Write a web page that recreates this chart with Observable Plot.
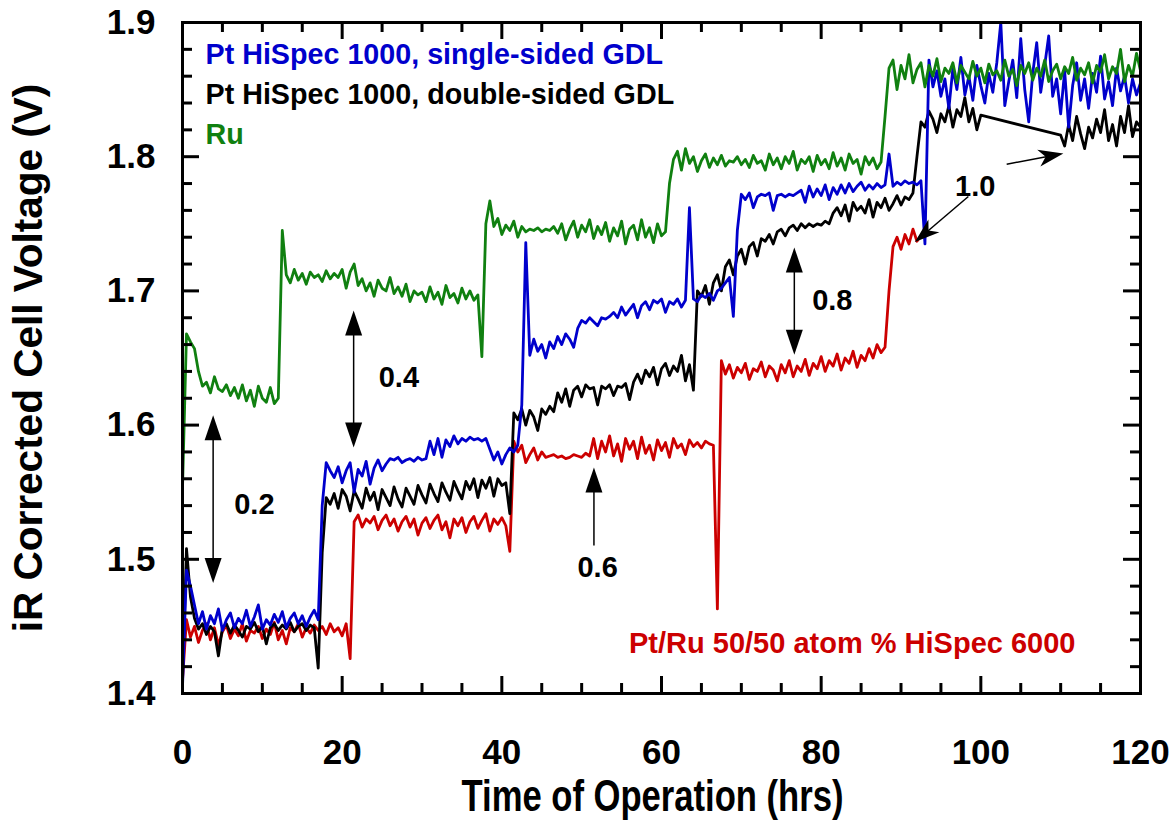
<!DOCTYPE html>
<html>
<head>
<meta charset="utf-8">
<script src="https://cdn.jsdelivr.net/npm/d3@7"></script>
<script src="https://cdn.jsdelivr.net/npm/@observablehq/plot@0.6"></script>
<style>
  html, body { margin: 0; padding: 0; background: #fff; }
</style>
</head>
<body>
<div id="chart"></div>
<script>
// Cell voltage log, one reading every half hour (hours, volts).
const SAMPLE_STEP = 0.5;

// Pt HiSpec 1000, single-sided GDL — readings from t = 0 h
const ptSingleStart = 0;
const ptSingle = [
  1.405,1.492,1.480,1.466,1.452,1.461,1.448,1.458,1.452,1.463,
  1.447,1.455,1.460,1.449,1.456,1.452,1.462,1.450,1.457,1.466,
  1.448,1.455,1.451,1.459,1.453,1.461,1.449,1.456,1.460,1.452,
  1.458,1.450,1.457,1.462,1.455,1.540,1.572,1.566,1.561,1.569,
  1.557,1.566,1.572,1.550,1.567,1.562,1.573,1.556,1.568,1.574,
  1.566,1.571,1.575,1.574,1.576,1.572,1.574,1.575,1.573,1.576,
  1.574,1.575,1.588,1.578,1.590,1.576,1.589,1.584,1.592,1.586,
  1.590,1.588,1.591,1.589,1.590,1.588,1.590,1.582,1.574,1.580,
  1.571,1.578,1.583,1.580,1.585,1.615,1.736,1.652,1.664,1.655,
  1.660,1.650,1.662,1.657,1.666,1.660,1.668,1.664,1.658,1.672,
  1.678,1.676,1.680,1.677,1.674,1.680,1.679,1.681,1.684,1.680,
  1.688,1.682,1.686,1.690,1.680,1.689,1.692,1.686,1.693,1.691,
  1.694,1.684,1.692,1.690,1.694,1.688,1.693,1.762,1.694,1.692,
  1.697,1.695,1.698,1.693,1.700,1.702,1.706,1.710,1.681,1.745,
  1.772,1.768,1.773,1.762,1.770,1.772,1.771,1.773,1.760,1.771,
  1.772,1.770,1.772,1.771,1.773,1.775,1.766,1.778,1.770,1.776,
  1.771,1.779,1.768,1.777,1.772,1.779,1.773,1.780,1.774,1.778,
  1.781,1.775,1.779,1.776,1.780,1.777,1.779,1.802,1.778,1.781,
  1.779,1.782,1.780,1.781,1.779,1.782,1.735,1.872,1.852,1.864,
  1.845,1.858,1.836,1.866,1.850,1.874,1.846,1.860,1.842,1.868,
  1.853,1.840,1.862,1.848,1.870,1.900,1.838,1.856,1.872,1.844,
  1.888,1.850,1.826,1.862,1.885,1.848,1.868,1.890,1.845,1.858,
  1.832,1.864,1.822,1.853,1.870,1.842,1.858,1.836,1.862,1.848,
  1.875,1.843,1.856,1.838,1.866,1.849,1.860,1.840,1.858,1.846,
  1.855
];

// Pt HiSpec 1000, double-sided GDL — logged 0–100 h, then 110–120 h
const ptDoubleStart = 0;
const ptDouble = [
  1.410,1.508,1.472,1.456,1.448,1.452,1.444,1.450,1.446,1.428,
  1.449,1.452,1.445,1.451,1.447,1.442,1.450,1.448,1.453,1.446,
  1.450,1.437,1.449,1.452,1.447,1.451,1.448,1.453,1.446,1.450,
  1.452,1.447,1.451,1.449,1.419,1.505,1.546,1.541,1.549,1.538,
  1.552,1.547,1.536,1.551,1.545,1.538,1.553,1.544,1.550,1.537,
  1.552,1.546,1.540,1.554,1.545,1.539,1.553,1.547,1.541,1.555,
  1.548,1.542,1.556,1.549,1.543,1.557,1.550,1.544,1.558,1.551,
  1.545,1.558,1.552,1.560,1.546,1.559,1.553,1.561,1.547,1.560,
  1.555,1.557,1.534,1.609,1.604,1.612,1.600,1.611,1.606,1.596,
  1.612,1.608,1.614,1.610,1.624,1.617,1.627,1.614,1.626,1.629,
  1.621,1.630,1.627,1.628,1.615,1.629,1.627,1.630,1.622,1.629,
  1.628,1.631,1.619,1.632,1.638,1.631,1.641,1.636,1.643,1.630,
  1.642,1.646,1.637,1.644,1.640,1.652,1.633,1.645,1.626,1.700,
  1.696,1.704,1.690,1.706,1.712,1.700,1.718,1.723,1.712,1.726,
  1.731,1.720,1.733,1.736,1.726,1.739,1.737,1.742,1.735,1.744,
  1.746,1.741,1.747,1.749,1.745,1.750,1.747,1.750,1.748,1.750,
  1.749,1.752,1.750,1.758,1.762,1.756,1.764,1.752,1.766,1.760,
  1.763,1.758,1.768,1.755,1.766,1.762,1.769,1.760,1.765,1.771,
  1.764,1.770,1.768,1.773,1.800,1.826,1.822,1.834,1.828,1.818,
  1.832,1.826,1.838,1.822,1.835,1.830,1.844,1.826,1.836,1.820,
  1.831
];
const ptDoubleLateStart = 110;
const ptDoubleLate = [
  1.816,1.808,1.824,1.812,1.830,1.817,1.806,1.822,1.814,1.828,
  1.818,1.835,1.812,1.824,1.808,1.830,1.818,1.838,1.815,1.826,
  1.822
];

// Ru — readings from t = 0 h
const ruStart = 0;
const ru = [
  1.553,1.668,1.662,1.657,1.640,1.629,1.632,1.624,1.636,1.627,
  1.625,1.630,1.622,1.628,1.620,1.630,1.618,1.626,1.614,1.629,
  1.620,1.617,1.628,1.616,1.620,1.745,1.712,1.706,1.716,1.708,
  1.713,1.705,1.714,1.710,1.712,1.707,1.715,1.709,1.713,1.710,
  1.716,1.702,1.714,1.720,1.704,1.709,1.700,1.706,1.696,1.708,
  1.702,1.700,1.710,1.698,1.703,1.696,1.705,1.692,1.700,1.697,
  1.699,1.692,1.703,1.694,1.699,1.690,1.704,1.695,1.698,1.691,
  1.702,1.694,1.700,1.693,1.697,1.651,1.750,1.767,1.748,1.754,
  1.742,1.749,1.745,1.752,1.740,1.748,1.744,1.746,1.745,1.747,
  1.744,1.746,1.745,1.748,1.743,1.750,1.738,1.746,1.752,1.740,
  1.749,1.744,1.753,1.739,1.748,1.742,1.751,1.737,1.747,1.741,
  1.752,1.735,1.746,1.749,1.738,1.753,1.740,1.747,1.736,1.750,
  1.741,1.744,1.780,1.798,1.804,1.790,1.806,1.795,1.800,1.789,
  1.797,1.802,1.792,1.799,1.794,1.801,1.793,1.797,1.796,1.800,
  1.794,1.798,1.792,1.801,1.795,1.797,1.790,1.802,1.794,1.799,
  1.791,1.800,1.795,1.804,1.790,1.798,1.795,1.800,1.789,1.801,
  1.794,1.798,1.791,1.803,1.793,1.799,1.790,1.802,1.795,1.798,
  1.787,1.800,1.794,1.799,1.791,1.796,1.830,1.866,1.872,1.850,
  1.868,1.858,1.876,1.855,1.865,1.870,1.852,1.868,1.860,1.873,
  1.856,1.866,1.862,1.870,1.855,1.868,1.863,1.858,1.871,1.860,
  1.866,1.855,1.869,1.861,1.864,1.857,1.872,1.860,1.865,1.853,
  1.868,1.862,1.870,1.857,1.866,1.860,1.872,1.856,1.864,1.869,
  1.858,1.867,1.862,1.874,1.857,1.866,1.861,1.870,1.855,1.868,
  1.863,1.876,1.858,1.867,1.862,1.880,1.856,1.868,1.860,1.877,
  1.864
];

// Pt/Ru 50/50 atom % HiSpec 6000 — readings from t = 0 h to 92.5 h
const ptRuStart = 0;
const ptRu = [
  1.410,1.455,1.442,1.450,1.438,1.447,1.452,1.440,1.449,1.436,
  1.446,1.451,1.441,1.448,1.443,1.452,1.439,1.447,1.445,1.450,
  1.441,1.448,1.444,1.453,1.440,1.447,1.437,1.449,1.446,1.452,
  1.442,1.449,1.445,1.451,1.447,1.450,1.444,1.452,1.446,1.449,
  1.443,1.452,1.426,1.528,1.533,1.524,1.530,1.527,1.532,1.522,
  1.529,1.533,1.525,1.530,1.521,1.528,1.532,1.524,1.530,1.518,
  1.527,1.531,1.523,1.529,1.533,1.522,1.528,1.516,1.530,1.525,
  1.531,1.520,1.528,1.532,1.523,1.529,1.534,1.521,1.530,1.526,
  1.531,1.525,1.506,1.588,1.580,1.585,1.572,1.578,1.583,1.574,
  1.580,1.576,1.577,1.578,1.576,1.577,1.575,1.576,1.578,1.577,
  1.576,1.579,1.577,1.590,1.575,1.588,1.580,1.592,1.577,1.586,
  1.573,1.590,1.582,1.588,1.575,1.591,1.579,1.585,1.574,1.589,
  1.581,1.587,1.576,1.590,1.583,1.586,1.578,1.589,1.584,1.587,
  1.583,1.588,1.586,1.585,1.463,1.648,1.638,1.645,1.635,1.643,
  1.639,1.646,1.634,1.642,1.640,1.647,1.636,1.644,1.641,1.633,
  1.645,1.639,1.648,1.636,1.644,1.640,1.649,1.637,1.646,1.642,
  1.651,1.640,1.648,1.644,1.653,1.641,1.650,1.646,1.655,1.643,
  1.652,1.648,1.657,1.650,1.660,1.654,1.658,1.700,1.733,1.740,
  1.731,1.742,1.735,1.746,1.737,1.741
];

// Series names and colours
const seriesNames = [
  "Pt/Ru 50/50 atom % HiSpec 6000",
  "Pt HiSpec 1000, double-sided GDL",
  "Pt HiSpec 1000, single-sided GDL",
  "Ru"
];
const seriesColors = ["#cc0000", "#000000", "#0000cc", "#108010"];

// Axis ticks
const xMajorTicks = [0, 20, 40, 60, 80, 100, 120];
const xMinorTicks = [5, 10, 15, 25, 30, 35, 45, 50, 55, 65, 70, 75, 85, 90, 95, 105, 110, 115];
const yMajorTicks = [1.4, 1.5, 1.6, 1.7, 1.8, 1.9];
const yMinorTicks = [1.42, 1.44, 1.46, 1.48, 1.52, 1.54, 1.56, 1.58, 1.62, 1.64, 1.66, 1.68,
                     1.72, 1.74, 1.76, 1.78, 1.82, 1.84, 1.86, 1.88];

// Current density steps (A/cm²) marked on the chart
const currentLabels = ["0.2", "0.4", "0.6", "0.8", "1.0"];
const currentLabelTime = [9.0, 27.1, 52.0, 81.4, 99.3];
const currentLabelVolt = [1.541, 1.635, 1.494, 1.693, 1.778];

// Pointer arrows (hours, volts): from → to, heads at "end" or "both"
const pointers = [
  {x1: 3.9,  y1: 1.482, x2: 3.9,   y2: 1.607, heads: "both"},
  {x1: 21.5, y1: 1.583, x2: 21.5,  y2: 1.685, heads: "both"},
  {x1: 51.6, y1: 1.510, x2: 51.6,  y2: 1.568, heads: "end"},
  {x1: 76.7, y1: 1.652, x2: 76.7,  y2: 1.732, heads: "both"},
  {x1: 98.5, y1: 1.770, x2: 91.8,  y2: 1.736, heads: "end", swept: true},
  {x1: 103.3, y1: 1.794, x2: 110.4, y2: 1.802, heads: "end", swept: true}
];

const xTitle = "Time of Operation (hrs)";
const yTitle = "iR Corrected Cell Voltage (V)";

// ---- assemble readings into rows ----
function readings(series, start, values) {
  return values.map((v, i) => ({series, t: start + i * SAMPLE_STEP, v}));
}
const rows = [
  ...readings(seriesNames[0], ptRuStart, ptRu),
  ...readings(seriesNames[1], ptDoubleStart, ptDouble),
  ...readings(seriesNames[1], ptDoubleLateStart, ptDoubleLate),
  ...readings(seriesNames[2], ptSingleStart, ptSingle),
  ...readings(seriesNames[3], ruStart, ru)
];

const W = 1176, H = 829;
const M = {top: 22, right: 36, bottom: 136, left: 182};
const innerW = W - M.left - M.right;
const innerH = H - M.top - M.bottom;
const MAJOR = 17, MINOR = 10, TICK_W = 3;
const FONT = "'Liberation Sans', Arial, Helvetica, sans-serif";

// Inward ticks on all four sides, as short rules
function inwardTicks(xs, ys, len) {
  return [
    Plot.ruleX(xs, {x: d => d, insetTop: innerH - len, strokeWidth: TICK_W}),
    Plot.ruleX(xs, {x: d => d, insetBottom: innerH - len, strokeWidth: TICK_W}),
    Plot.ruleY(ys, {y: d => d, insetRight: innerW - len, strokeWidth: TICK_W}),
    Plot.ruleY(ys, {y: d => d, insetLeft: innerW - len, strokeWidth: TICK_W})
  ];
}

// Arrows with filled heads, positioned through the x and y scales
function pointerLayer(index, scales) {
  const {x, y} = scales;
  const g = d3.create("svg:g");
  const L = 25, HW = 8.5;
  const headPath = (tip, ux, uy, swept) => {
    const bx = tip[0] - ux * L, by = tip[1] - uy * L;
    const px = -uy, py = ux;
    const pts = [tip, [bx + px * HW, by + py * HW]];
    if (swept) pts.push([tip[0] - ux * L * 0.72, tip[1] - uy * L * 0.72]);
    pts.push([bx - px * HW, by - py * HW]);
    return "M" + pts.map(p => p.join(",")).join("L") + "Z";
  };
  for (const a of pointers) {
    const p1 = [x(a.x1), y(a.y1)], p2 = [x(a.x2), y(a.y2)];
    const dx = p2[0] - p1[0], dy = p2[1] - p1[1];
    const len = Math.hypot(dx, dy), ux = dx / len, uy = dy / len;
    const s = a.heads === "both" ? [p1[0] + ux * L * 0.7, p1[1] + uy * L * 0.7] : p1;
    const e = [p2[0] - ux * L * 0.7, p2[1] - uy * L * 0.7];
    g.append("line")
      .attr("x1", s[0]).attr("y1", s[1]).attr("x2", e[0]).attr("y2", e[1])
      .attr("stroke", "#000").attr("stroke-width", 1.5);
    g.append("path").attr("d", headPath(p2, ux, uy, a.swept)).attr("fill", "#000");
    if (a.heads === "both") g.append("path").attr("d", headPath(p1, -ux, -uy, a.swept)).attr("fill", "#000");
  }
  return g.node();
}

const legendMarks = [2, 1, 3].map((k, row) =>
  Plot.text([seriesNames[k]], {
    text: d => d, frameAnchor: "top-left", textAnchor: "start", lineAnchor: "top",
    dx: 23, dy: 21 + row * 40, fontSize: 28.7, fill: seriesColors[k]
  })
);

const chart = Plot.plot({
  width: W, height: H,
  marginTop: M.top, marginRight: M.right, marginBottom: M.bottom, marginLeft: M.left,
  style: {fontFamily: FONT, fontWeight: "bold", background: "#fff", color: "#000", overflow: "visible"},
  x: {domain: [0, 120], label: null},
  y: {domain: [1.4, 1.9], label: null},
  color: {domain: seriesNames, range: seriesColors},
  marks: [
    Plot.axisX(xMajorTicks, {tickSize: 0, tickPadding: 46, fontSize: 35, label: null}),
    Plot.axisY(yMajorTicks, {tickSize: 0, tickPadding: 27, fontSize: 35, label: null, tickFormat: d => d.toFixed(1)}),
    Plot.line(rows, {x: "t", y: "v", z: "series", stroke: "series", strokeWidth: 2.8, clip: true}),
    ...inwardTicks(xMajorTicks, yMajorTicks, MAJOR),
    ...inwardTicks(xMinorTicks, yMinorTicks, MINOR),
    Plot.frame({strokeWidth: 3}),
    ...legendMarks,
    Plot.text([seriesNames[0]], {
      text: d => d, frameAnchor: "bottom-right", textAnchor: "end", lineAnchor: "top",
      dx: -65, dy: -61, fontSize: 29, fill: seriesColors[0]
    }),
    Plot.text(currentLabels, {
      x: (d, i) => currentLabelTime[i], y: (d, i) => currentLabelVolt[i], text: d => d,
      fontSize: 29, textAnchor: "middle", lineAnchor: "middle", fill: "#000"
    }),
    pointerLayer,
    Plot.text([yTitle], {
      text: d => d, frameAnchor: "left", rotate: -90, textAnchor: "middle", lineAnchor: "middle",
      dx: -153, fontSize: 40.5, fill: "#000"
    }),
    Plot.text([xTitle], {
      text: d => d, frameAnchor: "bottom", textAnchor: "middle", lineAnchor: "top",
      dx: -9, dy: 86, fontSize: 45, fill: "#000"
    })
  ]
});

// The time-axis title is set in a condensed face
d3.select(chart).selectAll("text")
  .filter(function () { return this.textContent === xTitle; })
  .attr("textLength", 382).attr("lengthAdjust", "spacingAndGlyphs");

document.getElementById("chart").appendChild(chart);
</script>
</body>
</html>
